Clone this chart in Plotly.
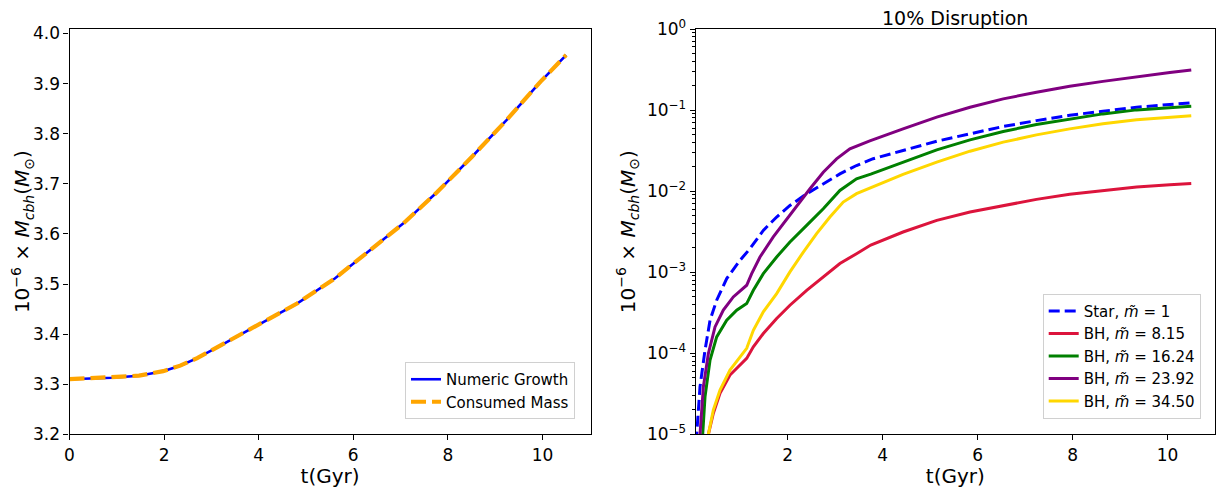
import plotly.graph_objects as go

# ---------------- data ----------------
t_left = [0.0, 0.89, 1.47, 1.98, 2.34, 2.70, 3.21, 4.01, 4.81, 5.61, 6.33, 7.06, 7.78, 8.51, 9.24, 9.96, 10.5]
m_numeric = [3.310, 3.313, 3.317, 3.326, 3.337, 3.352, 3.378, 3.420, 3.461, 3.511, 3.565, 3.621, 3.684, 3.754, 3.827, 3.904, 3.957]
m_consumed = [3.310, 3.313, 3.317, 3.326, 3.337, 3.352, 3.378, 3.420, 3.461, 3.511, 3.565, 3.621, 3.684, 3.754, 3.827, 3.904, 3.957]

t_star = [0.07, 0.084, 0.154, 0.259, 0.365, 0.505, 0.716, 0.996, 1.206, 1.487, 1.768, 2.048, 2.40, 2.75, 3.10, 3.45, 3.80, 4.43, 5.14, 5.84, 6.54, 7.24, 7.94, 8.64, 9.35, 10.05, 10.5]
m_star = [5e-6, 1.0e-5, 3.86e-5, 1.09e-4, 2.55e-4, 4.51e-4, 8.34e-4, 1.40e-3, 1.95e-3, 3.28e-3, 4.79e-3, 6.65e-3, 9.27e-3, 1.23e-2, 1.63e-2, 2.07e-2, 2.51e-2, 3.17e-2, 4.13e-2, 5.09e-2, 6.27e-2, 7.41e-2, 8.63e-2, 9.68e-2, 1.084e-1, 1.17e-1, 1.23e-1]

t_bh1 = [0.30, 0.33, 0.435, 0.575, 0.785, 0.996, 1.137, 1.277, 1.487, 1.768, 2.048, 2.40, 2.75, 3.10, 3.45, 3.75, 4.43, 5.14, 5.84, 6.54, 7.24, 7.94, 8.64, 9.35, 10.05, 10.5]
m_bh1 = [5e-6, 1.0e-5, 1.82e-5, 3.20e-5, 5.38e-5, 7.14e-5, 8.63e-5, 1.20e-4, 1.75e-4, 2.68e-4, 3.91e-4, 5.98e-4, 8.73e-4, 1.28e-3, 1.69e-3, 2.16e-3, 3.13e-3, 4.36e-3, 5.52e-3, 6.67e-3, 7.91e-3, 9.12e-3, 1.021e-2, 1.122e-2, 1.20e-2, 1.245e-2]

t_bh2 = [0.19, 0.21, 0.259, 0.365, 0.505, 0.716, 0.926, 1.137, 1.277, 1.487, 1.768, 2.048, 2.40, 2.75, 3.10, 3.45, 3.75, 4.43, 5.14, 5.84, 6.54, 7.24, 7.94, 8.64, 9.35, 10.05, 10.5]
m_bh2 = [5e-6, 1.0e-5, 2.90e-5, 8.22e-5, 1.59e-4, 2.55e-4, 3.40e-4, 4.10e-4, 5.98e-4, 9.59e-4, 1.54e-3, 2.36e-3, 3.78e-3, 6.05e-3, 1.02e-2, 1.42e-2, 1.62e-2, 2.28e-2, 3.23e-2, 4.29e-2, 5.43e-2, 6.64e-2, 7.80e-2, 8.97e-2, 1.005e-1, 1.06e-1, 1.114e-1]

t_bh3 = [0.14, 0.154, 0.225, 0.33, 0.47, 0.645, 0.855, 1.137, 1.242, 1.417, 1.697, 1.908, 2.19, 2.47, 2.75, 3.03, 3.31, 3.73, 4.43, 5.14, 5.84, 6.54, 7.24, 7.94, 8.64, 9.35, 10.05, 10.5]
m_bh3 = [5e-6, 1.0e-5, 3.86e-5, 9.93e-5, 2.11e-4, 3.40e-4, 4.95e-4, 6.90e-4, 9.59e-4, 1.54e-3, 2.72e-3, 3.96e-3, 6.35e-3, 1.07e-2, 1.71e-2, 2.50e-2, 3.32e-2, 4.17e-2, 5.86e-2, 8.17e-2, 1.084e-1, 1.374e-1, 1.66e-1, 1.97e-1, 2.26e-1, 2.59e-1, 2.90e-1, 3.13e-1]

t_bh4 = [0.30, 0.33, 0.435, 0.575, 0.785, 0.996, 1.137, 1.277, 1.487, 1.768, 2.048, 2.33, 2.61, 2.89, 3.17, 3.45, 3.75, 4.43, 5.14, 5.84, 6.54, 7.24, 7.94, 8.64, 9.35, 10.05, 10.5]
m_bh4 = [5e-6, 1.0e-5, 2.0e-5, 3.52e-5, 6.19e-5, 9.03e-5, 1.15e-4, 1.92e-4, 3.24e-4, 5.45e-4, 1.007e-3, 1.77e-3, 2.99e-3, 4.79e-3, 7.33e-3, 9.29e-3, 1.10e-2, 1.61e-2, 2.28e-2, 3.11e-2, 4.02e-2, 4.94e-2, 5.86e-2, 6.76e-2, 7.57e-2, 8.15e-2, 8.49e-2]

legend_names = ["Star, <i>m̃</i> = 1", "BH, <i>m̃</i> = 8.15", "BH, <i>m̃</i> = 16.24",
                "BH, <i>m̃</i> = 23.92", "BH, <i>m̃</i> = 34.50"]
left_ticks = [3.2, 3.3, 3.4, 3.5, 3.6, 3.7, 3.8, 3.9, 4.0]
x_ticks = [0, 2, 4, 6, 8, 10]
log_exps = [-5, -4, -3, -2, -1, 0]

# ---------------- figure ----------------
FONT = "DejaVu Sans"
fig = go.Figure()

fig.add_trace(go.Scatter(x=t_left, y=m_numeric, mode="lines", name="Numeric Growth",
                         line=dict(color="#0000ff", width=2.6), xaxis="x", yaxis="y", legend="legend"))
fig.add_trace(go.Scatter(x=t_left, y=m_consumed, mode="lines", name="Consumed Mass",
                         line=dict(color="#ffa500", width=4.2, dash="15px,6px"), xaxis="x", yaxis="y", legend="legend"))

series = [(t_star, m_star, "#0000ff", "11px,5px"),
          (t_bh1, m_bh1, "#dc143c", "solid"),
          (t_bh2, m_bh2, "#008000", "solid"),
          (t_bh3, m_bh3, "#800080", "solid"),
          (t_bh4, m_bh4, "#ffd700", "solid")]
for (tx, my, col, dsh), nm in zip(series, legend_names):
    fig.add_trace(go.Scatter(x=tx, y=my, mode="lines", name=nm,
                             line=dict(color=col, width=3, dash=dsh),
                             xaxis="x2", yaxis="y2", legend="legend2"))

# the page body has an 8px margin: lay out in page pixels, then shift
OFF = 8
W, H = 1226 - OFF, 488 - OFF
def px(x):
    return (x - OFF) / W
def py(y):
    return (H - (y - OFF)) / H

L1, R1 = 69.5, 590.7
L2, R2 = 695.7, 1215.0
TOP, BOT = 29.0, 434.3

axcommon = dict(showline=True, linecolor="black", linewidth=1.2, mirror=True,
                ticks="outside", ticklen=5, tickwidth=1.1, tickcolor="black",
                showgrid=False, zeroline=False, automargin=False,
                tickfont=dict(family=FONT, size=17, color="black"))

minor_vals = [m * 10 ** e for e in range(-5, 0) for m in range(2, 10)]
ytitle = "10<sup>−6</sup> × <i>M</i><sub><i>cbh</i></sub>(<i>M</i><sub>⊙</sub>)"

fig.update_layout(
    width=W, height=H, plot_bgcolor="white", paper_bgcolor="white",
    margin=dict(l=0, r=0, t=0, b=0),
    font=dict(family=FONT, color="black"),
    xaxis=dict(domain=[px(L1), px(R1)], range=[0, 11.02], tickvals=x_ticks,
               title=dict(text="t(Gyr)", font=dict(size=20), standoff=0), anchor="y", **axcommon),
    yaxis=dict(domain=[py(BOT), py(TOP)], range=[3.2, 4.009], tickvals=left_ticks,
               ticktext=[f"{v:.1f}" for v in left_ticks],
               title=dict(text=ytitle, font=dict(size=20), standoff=6), anchor="x", **axcommon),
    xaxis2=dict(domain=[px(L2), px(R2)], range=[0.063, 11.0], tickvals=[2, 4, 6, 8, 10],
                title=dict(text="t(Gyr)", font=dict(size=20), standoff=0), anchor="y2", **axcommon),
    yaxis2=dict(domain=[py(BOT), py(TOP)], type="log", range=[-5, 0],
                tickvals=[10 ** e for e in log_exps],
                ticktext=[f"10<sup>{'−' + str(-e) if e < 0 else e}</sup>" for e in log_exps],
                minor=dict(tickvals=minor_vals, ticks="outside", ticklen=3, tickcolor="black", tickwidth=0.8),
                title=dict(text=ytitle, font=dict(size=20), standoff=6), anchor="x2", **axcommon),
    legend=dict(x=px(575), y=py(419), xanchor="right", yanchor="bottom",
                bgcolor="rgba(255,255,255,0.8)", bordercolor="#d0d0d0", borderwidth=1,
                font=dict(family=FONT, size=15), itemwidth=30, tracegroupgap=0),
    legend2=dict(x=px(1200.7), y=py(418.7), xanchor="right", yanchor="bottom",
                 bgcolor="rgba(255,255,255,0.8)", bordercolor="#d0d0d0", borderwidth=1,
                 font=dict(family=FONT, size=15), itemwidth=30, tracegroupgap=0),
    annotations=[dict(text="10% Disruption", x=px(955), y=py(18), xanchor="center", yanchor="middle",
                      xref="paper", yref="paper", showarrow=False, borderpad=0,
                      font=dict(family=FONT, size=19, color="black"))],
)

fig.write_html("out.html")
